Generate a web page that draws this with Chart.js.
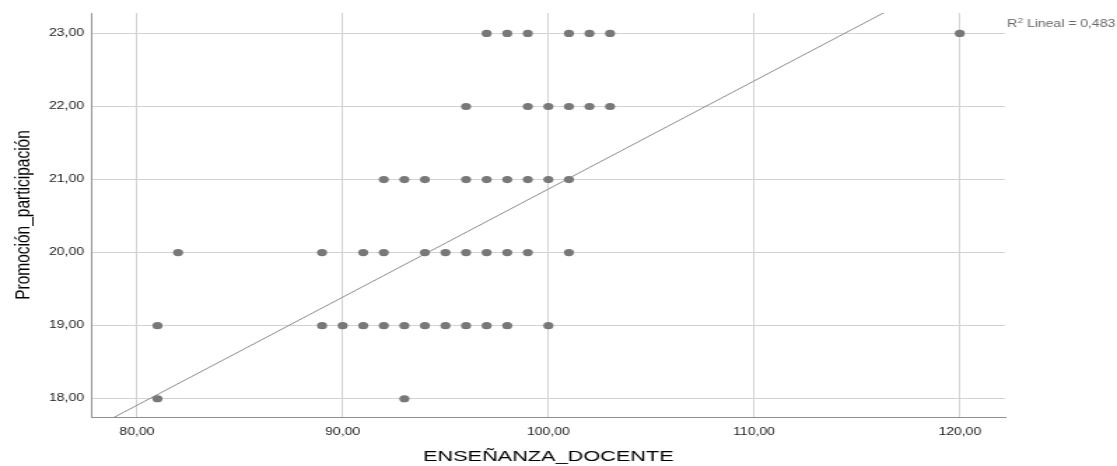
<!DOCTYPE html>
<html>
<head>
<meta charset="utf-8">
<script src="https://cdn.jsdelivr.net/npm/chart.js@4.4.1/dist/chart.umd.min.js"></script>
<style>
  html, body { margin: 0; padding: 0; background: #ffffff; }
  #plot { display: block; }
</style>
</head>
<body>
<canvas id="plot" width="798" height="466" style="width:1117px;height:466px"></canvas>
<script>
// Observations: x = ENSEÑANZA_DOCENTE, y = Promoción_participación
const ensenanza = [
  97, 98, 99, 101, 102, 103, 120,
  96, 99, 100, 101, 102, 103,
  92, 93, 94, 96, 97, 98, 99, 100, 101,
  82, 89, 91, 92, 94, 95, 96, 97, 98, 99, 101,
  81, 89, 90, 91, 92, 93, 94, 95, 96, 97, 98, 100,
  81, 93
];
const promocion = [
  23, 23, 23, 23, 23, 23, 23,
  22, 22, 22, 22, 22, 22,
  21, 21, 21, 21, 21, 21, 21, 21, 21,
  20, 20, 20, 20, 20, 20, 20, 20, 20, 20, 20,
  19, 19, 19, 19, 19, 19, 19, 19, 19, 19, 19, 19,
  18, 18
];

// Linear fit y = intercept + slope * x
const fitIntercept = 6.07;
const fitSlope = 0.148;
const rSquaredLabel = '0,483';

// Axis ranges and tick values
const xRange = [77.8, 122.2];
const yRange = [17.75, 23.28];
const xTicks = [80, 90, 100, 110, 120];
const yTicks = [18, 19, 20, 21, 22, 23];

const points = ensenanza.map((x, i) => ({ x: x, y: promocion[i] }));
const fitLine = xRange.map(x => ({ x: x, y: fitIntercept + fitSlope * x }));

const fmt = v => v.toFixed(2).replace('.', ',');

const rSquaredPlugin = {
  id: 'rSquared',
  afterDraw(chart) {
    const ctx = chart.ctx;
    const x0 = chart.chartArea.right + 1.5;
    const y0 = 26.5;
    ctx.save();
    ctx.fillStyle = '#666666';
    ctx.textBaseline = 'alphabetic';
    ctx.textAlign = 'left';
    ctx.font = '10px "Liberation Sans", Arial, sans-serif';
    ctx.fillText('R', x0, y0);
    let x = x0 + ctx.measureText('R').width;
    ctx.font = '7px "Liberation Sans", Arial, sans-serif';
    ctx.fillText('2', x + 0.3, y0 - 4);
    x += ctx.measureText('2').width + 0.3;
    ctx.font = '10px "Liberation Sans", Arial, sans-serif';
    ctx.fillText(' Lineal = ' + rSquaredLabel, x, y0);
    ctx.restore();
  }
};

new Chart(document.getElementById('plot'), {
  type: 'scatter',
  data: {
    datasets: [
      {
        label: 'Observaciones',
        data: points,
        backgroundColor: '#787878',
        borderWidth: 0,
        pointRadius: 3.6,
        pointHoverRadius: 3.6
      },
      {
        type: 'line',
        label: 'Lineal',
        data: fitLine,
        borderColor: '#8c8c8c',
        borderWidth: 1,
        pointRadius: 0,
        fill: false,
        clip: 0
      }
    ]
  },
  options: {
    responsive: false,
    devicePixelRatio: 1,
    animation: false,
    events: [],
    layout: { padding: { left: 0, right: 80, top: 13, bottom: 0 } },
    plugins: {
      legend: { display: false },
      tooltip: { enabled: false }
    },
    scales: {
      x: {
        type: 'linear',
        min: xRange[0],
        max: xRange[1],
        afterBuildTicks(scale) { scale.ticks = xTicks.map(v => ({ value: v })); },
        afterFit(scale) { scale.height = 49; },
        grid: { color: '#d3d3d3', lineWidth: 1, drawTicks: false },
        border: { display: true, color: '#8f8f8f', width: 1 },
        ticks: {
          padding: 9,
          color: '#1a1a1a',
          font: { family: '"Liberation Sans", Arial, sans-serif', size: 10 },
          callback: v => fmt(v)
        },
        title: {
          display: true,
          text: 'ENSEÑANZA_DOCENTE',
          color: '#000000',
          font: { family: '"Liberation Sans", Arial, sans-serif', size: 15.5, lineHeight: 1 },
          padding: { top: 0, bottom: 2 }
        }
      },
      y: {
        type: 'linear',
        min: yRange[0],
        max: yRange[1],
        afterBuildTicks(scale) { scale.ticks = yTicks.map(v => ({ value: v })); },
        afterFit(scale) { scale.width = 65.5; },
        grid: { color: '#d3d3d3', lineWidth: 1, drawTicks: false },
        border: { display: true, color: '#8f8f8f', width: 1 },
        ticks: {
          padding: 5.5,
          color: '#1a1a1a',
          font: { family: '"Liberation Sans", Arial, sans-serif', size: 10 },
          callback: v => fmt(v)
        },
        title: {
          display: true,
          text: 'Promoción_participación',
          color: '#000000',
          font: { family: '"Liberation Sans", Arial, sans-serif', size: 15.5, lineHeight: 1 },
          padding: { top: 9, bottom: 0 }
        }
      }
    }
  },
  plugins: [rSquaredPlugin]
});
</script>
</body>
</html>
